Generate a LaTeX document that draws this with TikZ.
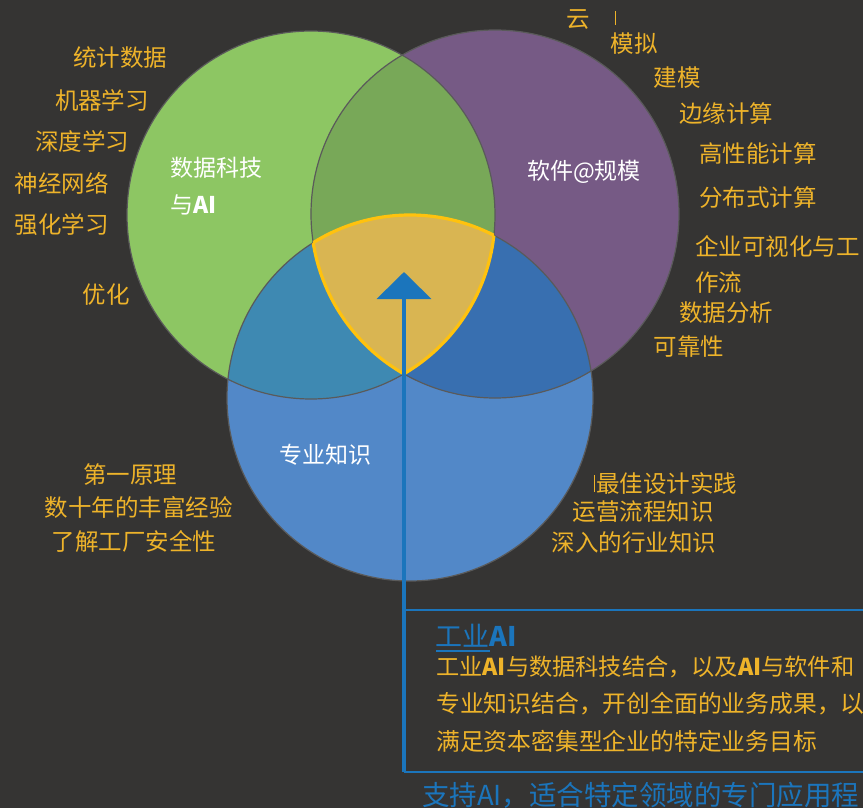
\documentclass[tikz,border=0pt]{standalone}
\usepackage{fontspec}
\setmainfont{Noto Sans CJK SC}
\usetikzlibrary{arrows.meta}
\definecolor{bg}{HTML}{353433}
\definecolor{cG}{HTML}{8DC663}
\definecolor{cP}{HTML}{765A85}
\definecolor{cB}{HTML}{5288C8}
\definecolor{cGP}{HTML}{78A858}
\definecolor{cGB}{HTML}{3E89B2}
\definecolor{cPB}{HTML}{386FB0}
\definecolor{cY}{HTML}{D9B552}
\definecolor{cYline}{HTML}{FFC20E}
\definecolor{txtY}{HTML}{EEB32A}
\definecolor{txtB}{HTML}{1B75BC}
\definecolor{edge}{HTML}{5A5A5A}
\begin{document}
\begin{tikzpicture}[x=1pt,y=-1pt,
  lbl/.style={text=txtY, font=\fontsize{23.5}{27}\selectfont, inner sep=0pt},
  wlbl/.style={text=white, font=\fontsize{23}{27}\selectfont, inner sep=0pt},
  body/.style={text=txtY, font=\fontsize{23.8}{27}\selectfont, inner sep=0pt, anchor=west},
  rim/.style={draw=edge, line width=1.2pt},
  lens/.style={draw=cYline, line width=3.2pt},
  bluel/.style={draw=txtB, line width=2pt}]
\fill[bg] (0,0) rectangle (863,808);
\useasboundingbox (0,0) rectangle (863,808);
\coordinate (G) at (311,215);
\coordinate (P) at (495,214);
\coordinate (B) at (410,398);
% base circles
\fill[cG] (G) circle[radius=184pt];
\fill[cP] (P) circle[radius=184pt];
\fill[cB] (B) circle[radius=183pt];
% pairwise overlaps
\begin{scope}
  \clip (G) circle[radius=184pt];
  \fill[cGP] (P) circle[radius=184pt];
  \fill[cGB] (B) circle[radius=183pt];
\end{scope}
\begin{scope}
  \clip (P) circle[radius=184pt];
  \fill[cPB] (B) circle[radius=183pt];
\end{scope}
% triple overlap
\begin{scope}
  \clip (G) circle[radius=184pt];
  \clip (P) circle[radius=184pt];
  \fill[cY] (B) circle[radius=183pt];
\end{scope}
% rims
\draw[rim] (G) circle[radius=184pt];
\draw[rim] (P) circle[radius=184pt];
\draw[rim] (B) circle[radius=183pt];
% lens outline
\begin{scope}
  \clip (G) circle[radius=184pt];
  \clip (P) circle[radius=184pt];
  \draw[lens] (B) circle[radius=183pt];
\end{scope}
\begin{scope}
  \clip (G) circle[radius=184pt];
  \clip (B) circle[radius=183pt];
  \draw[lens] (P) circle[radius=184pt];
\end{scope}
\begin{scope}
  \clip (P) circle[radius=184pt];
  \clip (B) circle[radius=183pt];
  \draw[lens] (G) circle[radius=184pt];
\end{scope}
% circle labels
\node[wlbl, anchor=west] (ds1) at (170,168) {数据科技};
\node[wlbl, anchor=west] (ds2) at (170,205) {与\textbf{AI}};
\node[wlbl] (sw) at (584,172) {软件@规模};
\node[wlbl] (dk) at (325,455) {专业知识};
% left labels
\node[lbl] (l1) at (120,58) {统计数据};
\node[lbl] (l2) at (102,100) {机器学习};
\node[lbl] (l3) at (82,141) {深度学习};
\node[lbl] (l4) at (62,183) {神经网络};
\node[lbl] (l5) at (62,225) {强化学习};
\node[lbl] (l6) at (106,295) {优化};
% right labels
\node[lbl] (r0) at (578,20) {云};
\draw[txtY, line width=0.8pt] (615,11) -- (615,25);
\node[lbl] (r1) at (634,44) {模拟};
\node[lbl] (r2) at (677,78) {建模};
\node[lbl] (r3) at (726,114) {边缘计算};
\node[lbl] (r4) at (758,154) {高性能计算};
\node[lbl] (r5) at (758,198) {分布式计算};
\node[lbl, anchor=west] (r6) at (695,246) {企业可视化与工};
\node[lbl, anchor=west] (r7) at (695,283) {作流};
\node[lbl] (r8) at (726,313) {数据分析};
\node[lbl] (r9) at (689,347) {可靠性};
% bottom left
\node[lbl] (b1) at (130,475) {第一原理};
\node[lbl] (b2) at (139,507) {数十年的丰富经验};
\node[lbl] (b3) at (134,541) {了解工厂安全性};
% bottom right
\draw[txtY, line width=0.8pt] (594,475) -- (594,492);
\node[lbl, anchor=west] (c1) at (596,484) {最佳设计实践};
\node[lbl] (c2) at (643,512) {运营流程知识};
\node[lbl] (c3) at (634,543) {深入的行业知识};
% box and arrow
\coordinate (boxtl) at (404,610);
\coordinate (boxbl) at (404,772);
\coordinate (boxtr) at (863,610);
\coordinate (boxbr) at (863,772);
\coordinate (tip) at (404,272);
\draw[bluel] (boxtl) -- (boxtr);
\draw[bluel] (boxbl) -- (boxbr);
\draw[draw=txtB, line width=4pt, -{Triangle[width=54pt,length=27pt]}] (boxbl) -- (tip);
% box text
\node[text=txtB, font=\fontsize{27}{30}\selectfont, inner sep=0pt, anchor=west] (title) at (435,636) {工业\textbf{AI}};
\draw[txtB, line width=1.5pt] (436,651) -- (490,651);
\node[body, font=\fontsize{23.2}{27}\selectfont] (t1) at (436,667) {工业\textbf{AI}与数据科技结合，以及\textbf{AI}与软件和};
\node[body] (t2) at (436,704) {专业知识结合，开创全面的业务成果，以};
\node[body] (t3) at (436,741) {满足资本密集型企业的特定业务目标};
\node[text=txtB, font=\fontsize{27.5}{32}\selectfont, inner sep=0pt, anchor=west] (foot) at (422,795) {支持AI，适合特定领域的专门应用程};
\end{tikzpicture}
\end{document}
